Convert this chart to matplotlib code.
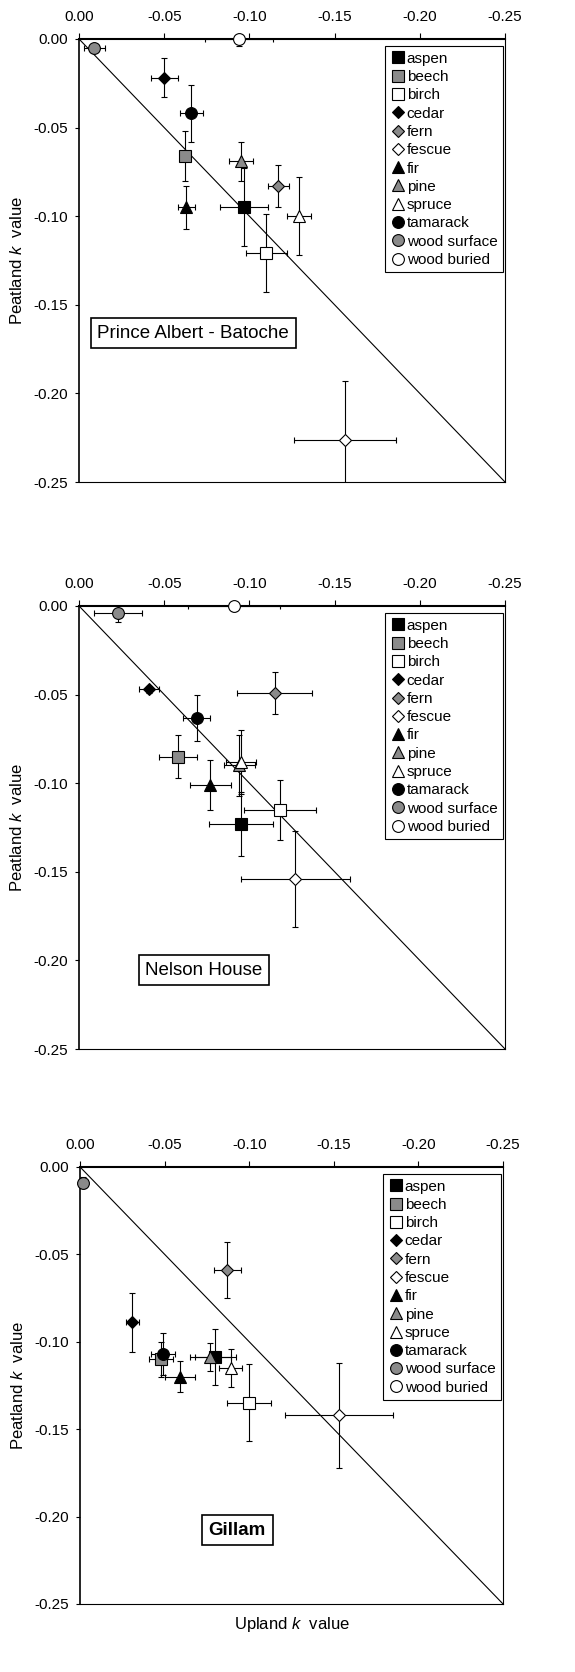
import numpy as np
import matplotlib
matplotlib.use("Agg")
import matplotlib.pyplot as plt
from matplotlib.lines import Line2D

plt.rcParams['font.family'] = ['Liberation Sans', 'DejaVu Sans']
plt.rcParams['mathtext.fontset'] = 'custom'
plt.rcParams['mathtext.it'] = 'Liberation Sans:italic'
plt.rcParams['mathtext.rm'] = 'Liberation Sans'

# Especies (orden de la leyenda)
especies = ['aspen', 'beech', 'birch', 'cedar', 'fern', 'fescue', 'fir',
            'pine', 'spruce', 'tamarack', 'wood surface', 'wood buried']

# Prince Albert - Batoche
pa_x = [-0.097, -0.062, -0.110, -0.050, -0.117, -0.156, -0.063, -0.095, -0.129, -0.066, -0.009, -0.094]
pa_y = [-0.095, -0.066, -0.121, -0.022, -0.083, -0.226, -0.095, -0.069, -0.100, -0.042, -0.005, 0.000]
pa_xerr = [0.014, 0.002, 0.012, 0.008, 0.006, 0.030, 0.005, 0.007, 0.007, 0.007, 0.006, 0.020]
pa_yerr = [0.022, 0.014, 0.022, 0.011, 0.012, 0.033, 0.012, 0.011, 0.022, 0.016, 0.002, 0.004]

# Nelson House
nh_x = [-0.095, -0.058, -0.118, -0.041, -0.115, -0.127, -0.077, -0.094, -0.095, -0.069, -0.023, -0.091]
nh_y = [-0.123, -0.085, -0.115, -0.047, -0.049, -0.154, -0.101, -0.090, -0.088, -0.063, -0.004, 0.000]
nh_xerr = [0.019, 0.011, 0.021, 0.006, 0.022, 0.032, 0.012, 0.009, 0.009, 0.008, 0.014, 0.027]
nh_yerr = [0.018, 0.012, 0.017, 0.002, 0.012, 0.027, 0.014, 0.017, 0.018, 0.013, 0.005, 0.003]

# Gillam
gi_x = [-0.080, -0.048, -0.100, -0.031, -0.087, -0.153, -0.059, -0.077, -0.089, -0.049, -0.002, np.nan]
gi_y = [-0.109, -0.110, -0.135, -0.089, -0.059, -0.142, -0.120, -0.109, -0.115, -0.107, -0.009, np.nan]
gi_xerr = [0.012, 0.007, 0.013, 0.004, 0.008, 0.032, 0.009, 0.012, 0.007, 0.007, 0.001, 0.0]
gi_yerr = [0.016, 0.010, 0.022, 0.017, 0.016, 0.030, 0.009, 0.008, 0.011, 0.012, 0.003, 0.0]

gris = '#8a8a8a'
marcadores = ['s', 's', 's', 'D', 'D', 'D', '^', '^', '^', 'o', 'o', 'o']
rellenos = ['black', gris, 'white'] * 4
tamanos = [8.5, 8.5, 8.5, 6.2, 6.2, 6.2, 9, 9, 9, 8.5, 8.5, 8.5]

sitios = [
    ('Prince Albert - Batoche', pa_x, pa_y, pa_xerr, pa_yerr, (0.268, 0.336), 'normal'),
    ('Nelson House', nh_x, nh_y, nh_xerr, nh_yerr, (0.293, 0.178), 'normal'),
    ('Gillam', gi_x, gi_y, gi_xerr, gi_yerr, (0.372, 0.169), 'bold'),
]

posiciones = [
    [0.1374, 0.7117, 0.7409, 0.2650],
    [0.1374, 0.3726, 0.7409, 0.2650],
    [0.1391, 0.0407, 0.7357, 0.2614],
]

fig = plt.figure(figsize=(5.75, 16.72), dpi=100)

for i, (nombre, xs, ys, xe, ye, pos_txt, peso) in enumerate(sitios):
    ax = fig.add_axes(posiciones[i])

    # linea 1:1
    ax.plot([0, -0.25], [0, -0.25], color='black', lw=0.8, zorder=1)

    for j in range(len(especies)):
        if np.isnan(xs[j]):
            continue
        ax.errorbar(xs[j], ys[j], xerr=xe[j], yerr=ye[j], fmt='none',
                    ecolor='black', elinewidth=0.8, capsize=2.5, capthick=0.8,
                    zorder=2)
        ax.plot(xs[j], ys[j], marker=marcadores[j], ms=tamanos[j],
                mfc=rellenos[j], mec='black', mew=0.8, ls='none', zorder=4,
                clip_on=False)

    ax.set_xlim(0, -0.25)
    ax.set_ylim(-0.25, 0)
    ax.xaxis.tick_top()
    ax.set_xticks([0, -0.05, -0.10, -0.15, -0.20, -0.25])
    ax.set_yticks([0, -0.05, -0.10, -0.15, -0.20, -0.25])
    ax.xaxis.set_major_formatter(matplotlib.ticker.FormatStrFormatter('%.2f'))
    ax.yaxis.set_major_formatter(matplotlib.ticker.FormatStrFormatter('%.2f'))
    ax.tick_params(axis='x', direction='out', length=4, width=0.8, pad=7, labelsize=11)
    ax.tick_params(axis='y', direction='out', length=3, width=0.8, pad=5, labelsize=11)

    ax.spines['top'].set_linewidth(1.5)
    ax.spines['left'].set_linewidth(1.2)
    ax.spines['right'].set_linewidth(0.8)
    ax.spines['bottom'].set_linewidth(0.8)

    ax.set_ylabel('Peatland $k$  value', fontsize=12, labelpad=6)
    if i == 2:
        ax.xaxis.set_label_position('bottom')
        ax.set_xlabel('Upland $k$  value', fontsize=12, labelpad=8)

    # leyenda
    handles = [Line2D([], [], marker=marcadores[j], ms=tamanos[j],
                      mfc=rellenos[j], mec='black', mew=0.8, ls='none')
               for j in range(len(especies))]
    leg = ax.legend(handles, especies, loc='upper right',
                    bbox_to_anchor=(0.995, 0.983), borderaxespad=0,
                    fontsize=11, labelspacing=0.28, handletextpad=0.1,
                    handlelength=1.0, borderpad=0.35, fancybox=False,
                    framealpha=1, edgecolor='black')
    leg.get_frame().set_linewidth(0.8)
    leg.set_zorder(5)

    ax.text(pos_txt[0], pos_txt[1], nombre, transform=ax.transAxes,
            fontsize=13.5, fontweight=peso, ha='center', va='center',
            bbox=dict(boxstyle='square,pad=0.35', fc='white', ec='black', lw=1.2))

plt.savefig('out.png', dpi=100)
